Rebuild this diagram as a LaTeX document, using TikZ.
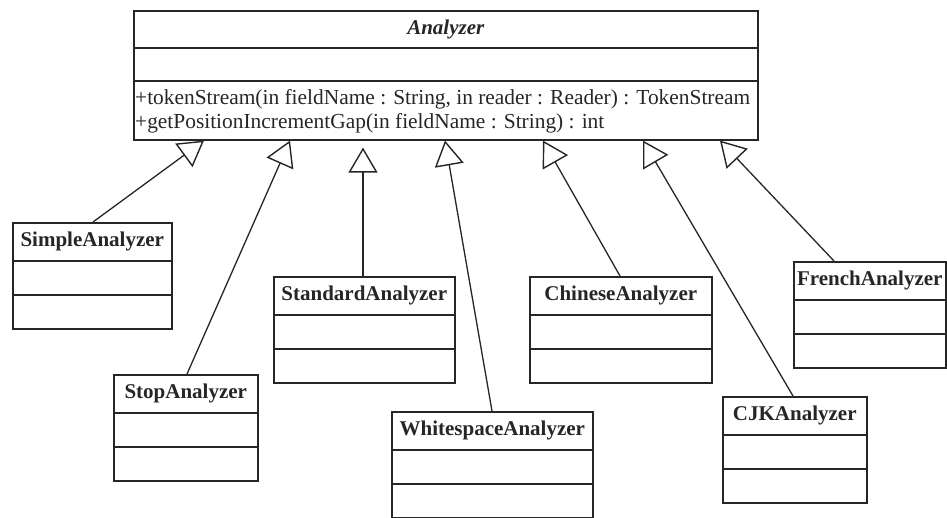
\documentclass[tikz,border=0pt]{standalone}
\usepackage{fontspec}
\setmainfont{Liberation Serif}
\usetikzlibrary{arrows.meta}

\definecolor{ink}{HTML}{262626}

\tikzset{
  umlframe/.style={draw=ink, line width=1.6pt, inner sep=0pt, anchor=north west},
  umltitle/.style={font=\fontsize{21}{25}\selectfont\bfseries, text=ink, inner sep=0pt},
  umlop/.style={font=\fontsize{21.4}{25}\selectfont, text=ink, inner sep=0pt, anchor=base west},
  compart/.style={draw=ink, line width=1.6pt},
  inherit/.style={draw=ink, line width=1.3pt,
    -{Triangle[open, length=25pt, width=29pt, line width=1.4pt]}},
}

% class box: name, x, y (top left), width, class name
\newcommand{\umlclassbox}[5]{%
  \node[umlframe, minimum width=#4pt, minimum height=106pt] (#1) at (#2,#3) {};
  \node[umltitle] (#1-name) at ([yshift=-19.5pt]#1.north) {#5};
  \draw[compart] ([yshift=-39pt]#1.north west) -- ([yshift=-39pt]#1.north east);
  \draw[compart] ([yshift=-73pt]#1.north west) -- ([yshift=-73pt]#1.north east);
}

\begin{document}
\begin{tikzpicture}[x=1pt, y=-1pt]
  \useasboundingbox (0,0) rectangle (947,518);

  % abstract base class
  \node[umlframe, minimum width=624pt, minimum height=129pt] (analyzer) at (133,10) {};
  \node[umltitle, font=\fontsize{21}{25}\selectfont\bfseries\itshape] (analyzer-name)
    at ([yshift=-19.5pt]analyzer.north) {Analyzer};
  \draw[compart] ([yshift=-38pt]analyzer.north west) -- ([yshift=-38pt]analyzer.north east);
  \draw[compart] ([yshift=-71pt]analyzer.north west) -- ([yshift=-71pt]analyzer.north east);
  \node[umlop] (op1) at (135,105)
    {+tokenStream(in fieldName : String, in reader : Reader) : TokenStream};
  \node[umlop] (op2) at (135,129)
    {+getPositionIncrementGap(in fieldName : String) : int};

  % subclasses
  \umlclassbox{simple}{12}{222}{159}{SimpleAnalyzer}
  \umlclassbox{stop}{113}{374}{144}{StopAnalyzer}
  \umlclassbox{standard}{273}{276}{181}{StandardAnalyzer}
  \umlclassbox{whitespace}{391}{411}{201}{WhitespaceAnalyzer}
  \umlclassbox{chinese}{529}{276}{182}{ChineseAnalyzer}
  \umlclassbox{cjk}{722}{396}{144}{CJKAnalyzer}
  \umlclassbox{french}{793}{261}{152}{FrenchAnalyzer}

  % generalisation arrows
  \draw[inherit] ([xshift=81pt]simple.north west)     -- ([xshift=71pt]analyzer.south west);
  \draw[inherit] ([xshift=74pt]stop.north west)       -- ([xshift=157pt]analyzer.south west);
  \draw[inherit] ([xshift=90pt]standard.north west)   -- ([xshift=230pt,yshift=-7pt]analyzer.south west);
  \draw[inherit] ([xshift=101pt]whitespace.north west) -- ([xshift=312pt]analyzer.south west);
  \draw[inherit] ([xshift=91pt]chinese.north west)    -- ([xshift=410pt]analyzer.south west);
  \draw[inherit] ([xshift=71pt]cjk.north west)        -- ([xshift=510pt]analyzer.south west);
  \draw[inherit] ([xshift=41pt]french.north west)     -- ([xshift=587pt]analyzer.south west);
\end{tikzpicture}
\end{document}
